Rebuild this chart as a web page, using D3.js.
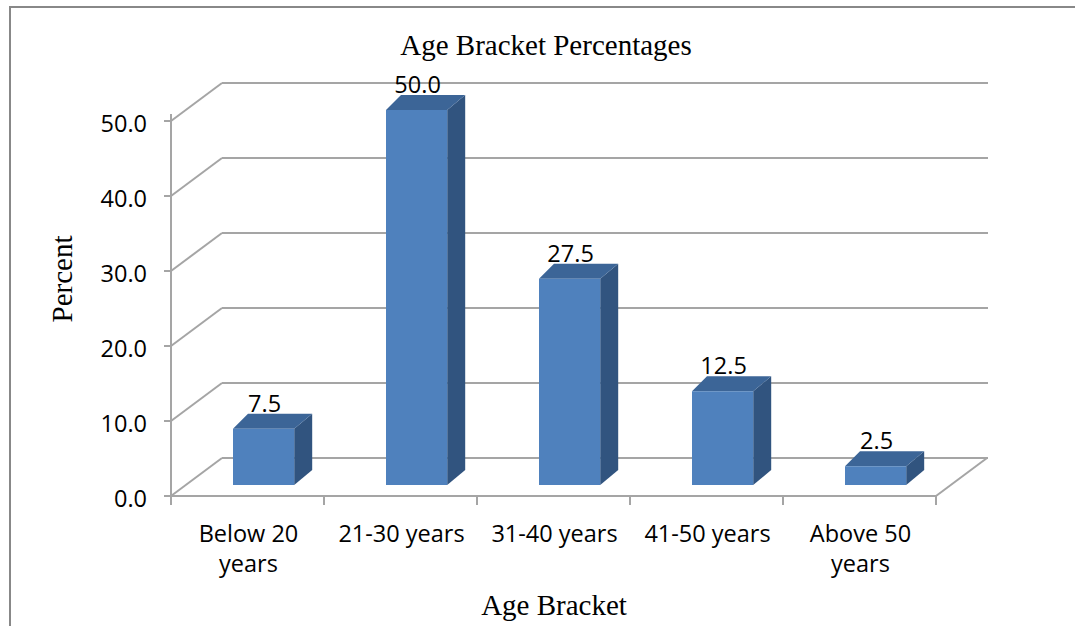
<!DOCTYPE html>
<html>
<head>
<meta charset="utf-8">
<script src="https://cdn.jsdelivr.net/npm/d3@7"></script>
<style>
  html, body { margin: 0; padding: 0; background: #fff; }
  svg { display: block; }
</style>
</head>
<body>
<svg id="chart" width="1075" height="626"></svg>
<script>
// Age bracket shares (percent)
const categories = [["Below 20", "years"], ["21-30 years"], ["31-40 years"], ["41-50 years"], ["Above 50", "years"]];
const values = [7.5, 50.0, 27.5, 12.5, 2.5];
const yTicks = [0, 10, 20, 30, 40, 50];

const svg = d3.select("#chart");
const W = 1075, H = 626;

// 3D box geometry: front plane and wall depth offset
const left = 171, right = 936;
const floorY = 496, topY = 121;
const wallDX = 51, wallDY = -38;
const barBase = 485;          // front-face bottom of the bars (mid depth)
const barDX = 18, barDY = -15; // bar depth offset

const x = d3.scaleBand().domain(d3.range(categories.length)).range([left, right]);
const y = d3.scaleLinear().domain([0, 50]).range([floorY, topY]);
// bar heights use the same pixels-per-unit as the value axis
const h = d3.scaleLinear().domain([0, 50]).range([0, floorY - topY]);

const gridColor = "#a5a5a5";
const sans = "'Open Sans', sans-serif";
const fs = 23.5;

// outer frame
svg.append("rect")
  .attr("x", 10).attr("y", 7).attr("width", W + 20).attr("height", H + 20)
  .attr("fill", "none").attr("stroke", "#888").attr("stroke-width", 2);

// back-wall gridlines and side-wall diagonals
const grid = svg.append("g").attr("stroke", gridColor).attr("stroke-width", 2).attr("fill", "none");
yTicks.forEach(t => {
  const yy = y(t);
  grid.append("line")
    .attr("x1", left + wallDX).attr("x2", right + wallDX + 1)
    .attr("y1", yy + wallDY).attr("y2", yy + wallDY);
  grid.append("line")
    .attr("x1", left).attr("y1", yy)
    .attr("x2", left + wallDX).attr("y2", yy + wallDY);
});
// floor right edge
grid.append("line")
  .attr("x1", right).attr("y1", floorY)
  .attr("x2", right + wallDX).attr("y2", floorY + wallDY);

// value axis
const axY = svg.append("g").attr("stroke", gridColor).attr("stroke-width", 2);
axY.append("line").attr("x1", left).attr("x2", left).attr("y1", topY - 7).attr("y2", floorY + 1);
yTicks.forEach(t => {
  axY.append("line").attr("x1", left - 7).attr("x2", left).attr("y1", y(t)).attr("y2", y(t));
});
svg.append("g").selectAll("text").data(yTicks).join("text")
  .attr("x", 147).attr("y", d => y(d) + 3)
  .attr("dy", "0.36em")
  .attr("text-anchor", "end")
  .attr("font-family", sans).attr("font-size", fs)
  .attr("fill", "#000")
  .text(d => d.toFixed(1));

// category axis
const axX = svg.append("g").attr("stroke", gridColor).attr("stroke-width", 2);
axX.append("line").attr("x1", left - 1).attr("x2", right + 1).attr("y1", floorY).attr("y2", floorY);
d3.range(categories.length + 1).forEach(i => {
  const xx = left + i * x.bandwidth();
  axX.append("line").attr("x1", xx).attr("x2", xx).attr("y1", floorY).attr("y2", floorY + 9);
});
const catLabels = svg.append("g")
  .attr("font-family", sans).attr("font-size", fs)
  .attr("fill", "#000").attr("text-anchor", "middle");
categories.forEach((lines, i) => {
  lines.forEach((ln, j) => {
    catLabels.append("text")
      .attr("x", x(i) + x.bandwidth() / 2 + 1)
      .attr("y", 542 + j * 30)
      .text(ln);
  });
});

// bars (front, top and side faces)
const front = "#4f81bd", topC = "#3c6597", side = "#31547f";
const barW = x.bandwidth() * 0.4;
const bars = svg.append("g");
values.forEach((v, i) => {
  const x0 = x(i) + 62, x1 = x0 + barW;
  const y1 = barBase, y0 = barBase - h(v);
  const g = bars.append("g");
  g.append("path")
    .attr("d", `M${x1},${y1} L${x1 + barDX},${y1 + barDY} L${x1 + barDX},${y0 + barDY} L${x1},${y0} Z`)
    .attr("fill", side);
  g.append("path")
    .attr("d", `M${x0},${y0} L${x0 + barDX - 3},${y0 + barDY} L${x1 + barDX},${y0 + barDY} L${x1},${y0} Z`)
    .attr("fill", topC);
  g.append("rect")
    .attr("x", x0).attr("y", y0).attr("width", barW).attr("height", y1 - y0)
    .attr("fill", front);
  g.append("text")
    .attr("x", x0 + barW / 2 + 1).attr("y", y0 - 17)
    .attr("text-anchor", "middle")
    .attr("font-family", sans).attr("font-size", fs)
    .attr("fill", "#000")
    .text(v.toFixed(1));
});

// titles
const serif = "'Liberation Serif', 'Times New Roman', serif";
svg.append("text")
  .attr("x", 546).attr("y", 55).attr("text-anchor", "middle")
  .attr("font-family", serif).attr("font-size", 29).attr("fill", "#000")
  .text("Age Bracket Percentages");
svg.append("text")
  .attr("x", 554).attr("y", 615).attr("text-anchor", "middle")
  .attr("font-family", serif).attr("font-size", 29).attr("fill", "#000")
  .text("Age Bracket");
svg.append("text")
  .attr("transform", "translate(72,279) rotate(-90)")
  .attr("text-anchor", "middle")
  .attr("font-family", serif).attr("font-size", 29).attr("fill", "#000")
  .text("Percent");
</script>
</body>
</html>
